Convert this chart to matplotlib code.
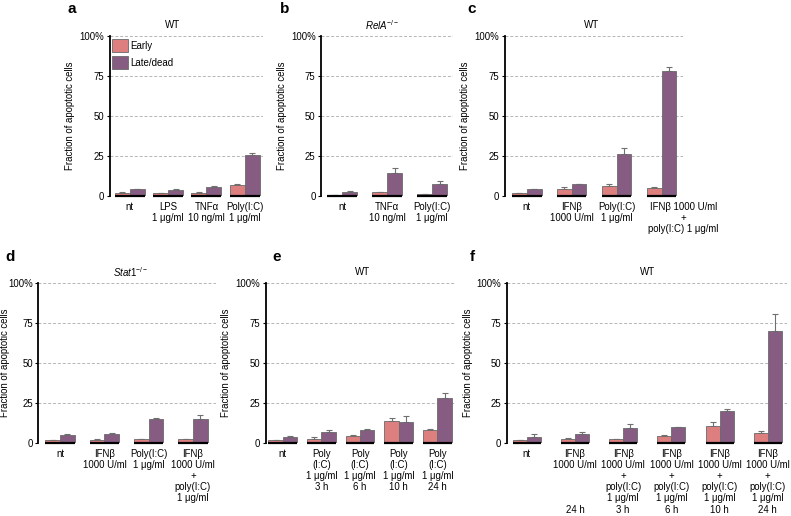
import numpy as np
import matplotlib
matplotlib.use('Agg')
import matplotlib.pyplot as plt
import matplotlib.transforms as mtransforms
from matplotlib.patches import Patch

plt.rcParams['font.family'] = ['Liberation Sans', 'DejaVu Sans']
plt.rcParams['font.size'] = 6.9
plt.rcParams['mathtext.fontset'] = 'custom'
plt.rcParams['mathtext.rm'] = 'Liberation Sans'
plt.rcParams['mathtext.it'] = 'Liberation Sans:italic'

EARLY_COLOR = '#dc7f7e'
LATE_COLOR = '#875c83'

# ---- data (% of cells) ----
a_labels = ['nt', 'LPS\n1 μg/ml', 'TNFα\n10 ng/ml', 'Poly(I:C)\n1 μg/ml']
a_early = [2.1, 1.7, 2.1, 6.7]
a_early_err = [0.4, 0.2, 0.3, 0.6]
a_late = [4.2, 4.0, 5.6, 25.4]
a_late_err = [0.4, 0.3, 0.4, 1.3]

b_labels = ['nt', 'TNFα\n10 ng/ml', 'Poly(I:C)\n1 μg/ml']
b_early = [0.6, 2.5, 1.0]
b_early_err = [0.2, 0.3, 0.2]
b_late = [2.7, 14.4, 7.3]
b_late_err = [0.3, 2.9, 2.1]

c_labels = ['nt', 'IFNβ\n1000 U/ml', 'Poly(I:C)\n1 μg/ml',
            'IFNβ 1000 U/ml\n+\npoly(I:C) 1 μg/ml']
c_early = [1.7, 4.4, 6.5, 4.8]
c_early_err = [0.3, 1.0, 1.2, 0.8]
c_late = [4.2, 7.3, 26.3, 78.3]
c_late_err = [0.3, 0.3, 3.5, 2.5]

d_labels = ['nt', 'IFNβ\n1000 U/ml', 'Poly(I:C)\n1 μg/ml',
            'IFNβ\n1000 U/ml\n+\npoly(I:C)\n1 μg/ml']
d_early = [1.9, 2.1, 2.3, 2.3]
d_early_err = [0.2, 0.3, 0.3, 0.3]
d_late = [4.8, 5.6, 14.9, 15.1]
d_late_err = [0.6, 0.6, 0.5, 2.1]

e_labels = ['nt', 'Poly\n(I:C)\n1 μg/ml\n3 h', 'Poly\n(I:C)\n1 μg/ml\n6 h',
            'Poly\n(I:C)\n1 μg/ml\n10 h', 'Poly\n(I:C)\n1 μg/ml\n24 h']
e_early = [1.7, 2.7, 4.4, 13.7, 7.9]
e_early_err = [0.3, 1.0, 0.3, 1.7, 0.8]
e_late = [3.5, 7.1, 8.3, 13.1, 28.0]
e_late_err = [0.6, 0.8, 0.6, 3.5, 3.1]

f_labels = ['nt', 'IFNβ\n1000 U/ml\n\n\n\n24 h',
            'IFNβ\n1000 U/ml\n+\npoly(I:C)\n1 μg/ml\n3 h',
            'IFNβ\n1000 U/ml\n+\npoly(I:C)\n1 μg/ml\n6 h',
            'IFNβ\n1000 U/ml\n+\npoly(I:C)\n1 μg/ml\n10 h',
            'IFNβ\n1000 U/ml\n+\npoly(I:C)\n1 μg/ml\n24 h']
f_early = [1.7, 2.3, 2.5, 4.4, 10.8, 6.4]
f_early_err = [0.3, 0.6, 0.3, 0.8, 2.1, 1.1]
f_late = [3.5, 5.8, 9.3, 9.8, 19.9, 70.3]
f_late_err = [2.3, 1.0, 2.3, 0.4, 1.3, 10.6]

fig = plt.figure(figsize=(7.91, 5.16), dpi=100)


def panel(rect, labels, early, early_err, late, late_err, title, title_x,
          width, xl, xr):
    ax = fig.add_axes(rect)
    n = len(labels)
    x = np.arange(n)
    for v in [0, 25, 50, 75, 100]:
        ax.axhline(v, color='#b5b5b5', lw=0.7, ls=(0, (3, 2)), zorder=0)
    ax.bar(x - width / 2, early, width, color=EARLY_COLOR, edgecolor='#6a6a6a',
           lw=0.6, zorder=2, label='Early')
    ax.bar(x + width / 2, late, width, color=LATE_COLOR, edgecolor='#6a6a6a',
           lw=0.6, zorder=2, label='Late/dead')
    ax.errorbar(x - width / 2, early, yerr=[np.zeros(n), early_err], fmt='none',
                ecolor='#707070', elinewidth=0.8, capsize=2.2, capthick=0.8, zorder=1)
    ax.errorbar(x + width / 2, late, yerr=[np.zeros(n), late_err], fmt='none',
                ecolor='#707070', elinewidth=0.8, capsize=2.2, capthick=0.8, zorder=1)
    for xi in x:
        ax.plot([xi - width, xi + width], [0, 0], color='black', lw=1.6,
                solid_capstyle='butt', zorder=3, clip_on=False)
    ax.set_xlim(-xl, n - 1 + xr)
    ax.set_ylim(0, 100)
    ax.set_yticks([0, 25, 50, 75, 100])
    ax.set_yticklabels(['0', '25', '50', '75', '100%'])
    ax.set_xticks(x)
    ax.set_xticklabels(labels, linespacing=1.15)
    ax.tick_params(axis='x', length=0, pad=4)
    ax.tick_params(axis='y', length=2.5, width=0.8, pad=1.5)
    for s in ['top', 'right', 'bottom']:
        ax.spines[s].set_visible(False)
    ax.spines['left'].set_linewidth(1.3)
    ax.set_ylabel('Fraction of apoptotic cells', labelpad=3)
    ax.text(title_x, 1.07, title, transform=ax.transAxes, ha='center',
            va='center', fontsize=7)
    return ax


H = 0.310
ax_a = panel([0.139, 0.620, 0.193, H], a_labels, a_early, a_early_err, a_late,
             a_late_err, 'WT', 0.41, 0.39, 0.52, 0.47)
ax_b = panel([0.406, 0.620, 0.167, H], b_labels, b_early, b_early_err, b_late,
             b_late_err, r'$\mathit{RelA}^{-/-}$', 0.46, 0.33, 0.47, 0.47)
ax_c = panel([0.638, 0.620, 0.225, H], c_labels, c_early, c_early_err, c_late,
             c_late_err, 'WT', 0.49, 0.33, 0.49, 0.47)
ax_d = panel([0.048, 0.1415, 0.225, H], d_labels, d_early, d_early_err, d_late,
             d_late_err, r'$\mathit{Stat1}^{-/-}$', 0.52, 0.33, 0.5, 0.52)
ax_e = panel([0.336, 0.1415, 0.241, H], e_labels, e_early, e_early_err, e_late,
             e_late_err, 'WT', 0.51, 0.37, 0.44, 0.49)
ax_f = panel([0.641, 0.1415, 0.354, H], f_labels, f_early, f_early_err, f_late,
             f_late_err, 'WT', 0.5, 0.29, 0.41, 0.4)

# panel d is tight against the left edge
ax_d.tick_params(axis='y', pad=1)
ax_d.yaxis.set_label_coords(-0.155, 0.5)

# the combined label in panel c sits right of its bars
last = ax_c.get_xticklabels()[-1]
last.set_transform(last.get_transform() +
                   mtransforms.ScaledTranslation(0.22, 0, fig.dpi_scale_trans))

handles = [Patch(facecolor=EARLY_COLOR, edgecolor='#6a6a6a', lw=0.6),
           Patch(facecolor=LATE_COLOR, edgecolor='#6a6a6a', lw=0.6)]
ax_a.legend(handles, ['Early', 'Late/dead'], loc='upper left',
            bbox_to_anchor=(0.0, 1.0), frameon=False, handlelength=1.6,
            handleheight=1.8, handletextpad=0.25, labelspacing=0.35,
            borderaxespad=0.15, borderpad=0.1, fontsize=7)

for lab, px, py in [('a', 68, 9), ('b', 280, 9), ('c', 467, 9),
                    ('d', 5, 257), ('e', 272, 257), ('f', 470, 257)]:
    fig.text(px / 791, 1 - py / 516, lab, fontsize=11, fontweight='bold',
             ha='left', va='center')

fig.savefig('out.png', dpi=100)
